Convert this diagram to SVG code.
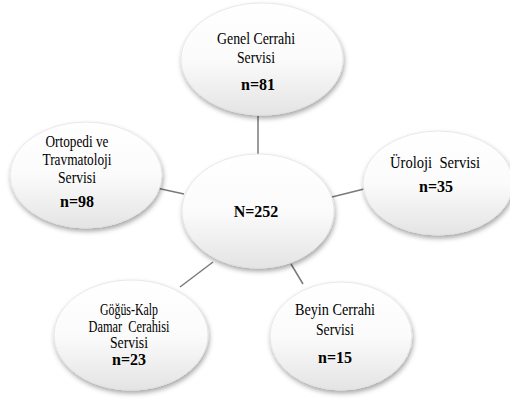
<svg xmlns="http://www.w3.org/2000/svg" width="510" height="400" viewBox="0 0 510 400">
<defs>
<linearGradient id="g" x1="0" y1="0" x2="0" y2="1">
<stop offset="0" stop-color="#ffffff"/>
<stop offset="0.5" stop-color="#fbfbfb"/>
<stop offset="1" stop-color="#e4e4e4"/>
</linearGradient>
<filter id="sh" x="-20%" y="-20%" width="140%" height="150%">
<feDropShadow dx="1" dy="3" stdDeviation="2.5" flood-color="#000" flood-opacity="0.35"/>
</filter>
</defs>
<style>
.n{fill:url(#g);stroke:#e2e2e2;stroke-width:0.8;filter:url(#sh)}
.t{font-family:'Liberation Serif',serif;font-size:16px;fill:#000;text-anchor:middle}
.b{font-weight:bold}
.c{stroke:#7a7a7a;stroke-width:1.5;fill:none}
</style>
<rect width="510" height="400" fill="#fff"/>
<g id="connectors">
<line class="c" x1="258" y1="116" x2="258" y2="156"/>
<line class="c" x1="152" y1="187" x2="184" y2="194"/>
<line class="c" x1="332" y1="197" x2="364" y2="189"/>
<line class="c" x1="213" y1="262" x2="180" y2="287"/>
<line class="c" x1="291" y1="264" x2="303" y2="284"/>
</g>
<g id="genel">
<ellipse class="n" cx="262" cy="59" rx="81" ry="56"/>
<text class="t" x="256" y="44" textLength="78" lengthAdjust="spacingAndGlyphs">Genel Cerrahi</text>
<text class="t" x="256" y="63" textLength="38" lengthAdjust="spacingAndGlyphs">Servisi</text>
<text class="t b" x="258" y="90">n=81</text>
</g>
<g id="ortopedi">
<ellipse class="n" cx="86" cy="175" rx="76" ry="53"/>
<text class="t" x="77" y="147" textLength="63" lengthAdjust="spacingAndGlyphs">Ortopedi ve</text>
<text class="t" x="77" y="165" textLength="69" lengthAdjust="spacingAndGlyphs">Travmatoloji</text>
<text class="t" x="77" y="183" textLength="38" lengthAdjust="spacingAndGlyphs">Servisi</text>
<text class="t b" x="77" y="207">n=98</text>
</g>
<g id="merkez">
<ellipse class="n" cx="258" cy="211" rx="76" ry="57"/>
<text class="t b" x="256" y="217">N=252</text>
</g>
<g id="uroloji">
<ellipse class="n" cx="438" cy="183" rx="75" ry="52"/>
<text class="t" x="435" y="168" textLength="90" lengthAdjust="spacingAndGlyphs" xml:space="preserve">Üroloji  Servisi</text>
<text class="t b" x="436" y="192">n=35</text>
</g>
<g id="gogus">
<ellipse class="n" cx="131" cy="335" rx="77" ry="55"/>
<text class="t" x="129" y="315" textLength="58" lengthAdjust="spacingAndGlyphs">Göğüs-Kalp</text>
<text class="t" x="129" y="332" textLength="81" lengthAdjust="spacingAndGlyphs" xml:space="preserve">Damar  Cerahisi</text>
<text class="t" x="129" y="348" textLength="38" lengthAdjust="spacingAndGlyphs">Servisi</text>
<text class="t b" x="129" y="365">n=23</text>
</g>
<g id="beyin">
<ellipse class="n" cx="341" cy="336" rx="71" ry="54"/>
<text class="t" x="335" y="315" textLength="80" lengthAdjust="spacingAndGlyphs">Beyin Cerrahi</text>
<text class="t" x="335" y="335" textLength="38" lengthAdjust="spacingAndGlyphs">Servisi</text>
<text class="t b" x="335" y="363">n=15</text>
</g>
</svg>
